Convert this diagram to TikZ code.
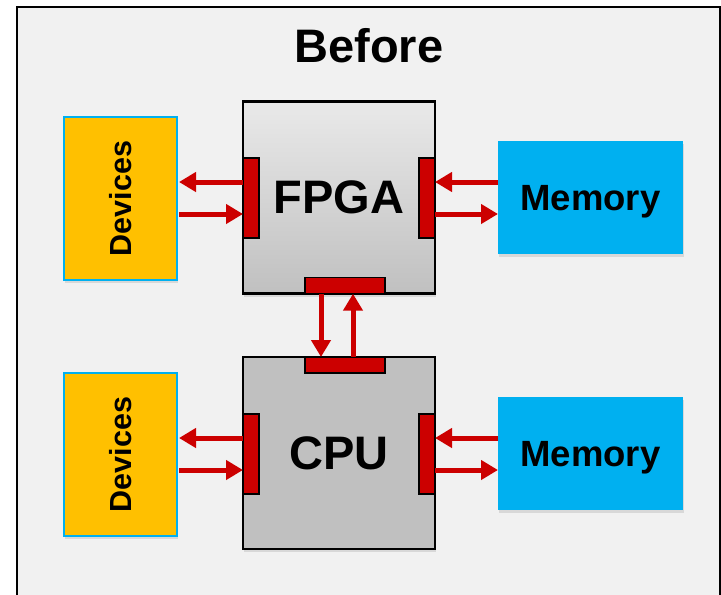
\documentclass[tikz,border=0pt]{standalone}
\usepackage{fontspec}
\setmainfont{Liberation Sans}
\usetikzlibrary{arrows.meta,shadows}
\definecolor{bgc}{HTML}{F1F1F1}
\definecolor{ylw}{HTML}{FFC000}
\definecolor{sky}{HTML}{00B0F0}
\definecolor{portred}{HTML}{CC0000}
\definecolor{cpugray}{HTML}{C0C0C0}
\begin{document}
\begin{tikzpicture}[x=1pt,y=-1pt,
  every node/.style={outer sep=0pt, inner sep=0pt, font=\bfseries},
  shad/.style={drop shadow={shadow xshift=1pt, shadow yshift=-3pt, opacity=0.22}},
  chip/.style={draw=black, line width=2.2pt, minimum width=192pt, minimum height=192pt, shad, text depth=0pt, font=\bfseries\fontsize{47}{50}\selectfont},
  port/.style={draw=black, line width=1.5pt, fill=portred},
  vport/.style={port, minimum width=16pt, minimum height=80pt},
  hport/.style={port, minimum width=80pt, minimum height=16pt},
  dev/.style={draw=sky, line width=2pt, fill=ylw, minimum width=113pt, minimum height=163pt, shad, font=\bfseries\fontsize{30.5}{32}\selectfont},
  mem/.style={fill=sky, minimum width=185pt, minimum height=113pt, shad, text depth=0pt, font=\bfseries\fontsize{36.5}{38}\selectfont},
  arr/.style={draw=portred, line width=5pt, -{Triangle[length=17pt,width=19pt]}}
]
\useasboundingbox (0,0) rectangle (721,595);
\clip (0,0) rectangle (721,595);
\draw[fill=bgc, line width=2pt] (17,6.5) rectangle (719.5,620);
\node[text depth=0pt, font=\bfseries\fontsize{47}{50}\selectfont] (title) at (369,45) {Before};

% chips
\node[chip, top color=gray!17, bottom color=cpugray] (fpga) at (339,197.5) {FPGA};
\node[chip, fill=cpugray] (cpu) at (339,453) {CPU};

% ports
\node[vport] (fpgaL) at (251,198) {};
\node[vport] (fpgaR) at (427,198) {};
\node[hport] (fpgaB) at (345,285.7) {};
\node[vport] (cpuL) at (251,454) {};
\node[vport] (cpuR) at (427,454) {};
\node[hport] (cpuT) at (345,365) {};

% devices and memory
\node[dev] (devA) at (120.5,198.5) {\rotatebox{90}{Devices}};
\node[dev] (devB) at (120.5,454.5) {\rotatebox{90}{Devices}};
\node[mem] (memA) at (590.5,197.5) {Memory};
\node[mem] (memB) at (590.5,453.5) {Memory};

% arrows FPGA
\draw[arr, shorten >=2pt] ([yshift=16pt]fpgaL.west) -- ([yshift=16pt]fpgaL.west -| devA.east);
\draw[arr, shorten <=2pt] ([yshift=-16pt]fpgaL.west -| devA.east) -- ([yshift=-16pt]fpgaL.west);
\draw[arr] ([yshift=16pt]fpgaR.east -| memA.west) -- ([yshift=16pt]fpgaR.east);
\draw[arr] ([yshift=-16pt]fpgaR.east) -- ([yshift=-16pt]fpgaR.east -| memA.west);
% arrows CPU
\draw[arr, shorten >=2pt] ([yshift=16pt]cpuL.west) -- ([yshift=16pt]cpuL.west -| devB.east);
\draw[arr, shorten <=2pt] ([yshift=-16pt]cpuL.west -| devB.east) -- ([yshift=-16pt]cpuL.west);
\draw[arr] ([yshift=16pt]cpuR.east -| memB.west) -- ([yshift=16pt]cpuR.east);
\draw[arr] ([yshift=-16pt]cpuR.east) -- ([yshift=-16pt]cpuR.east -| memB.west);
% vertical
\draw[arr] ([xshift=-24pt]fpgaB.south) -- ([xshift=-24pt]fpgaB.south |- cpuT.north);
\draw[arr] ([xshift=8pt]cpuT.north) -- ([xshift=8pt]cpuT.north |- fpgaB.south);
\end{tikzpicture}
\end{document}
